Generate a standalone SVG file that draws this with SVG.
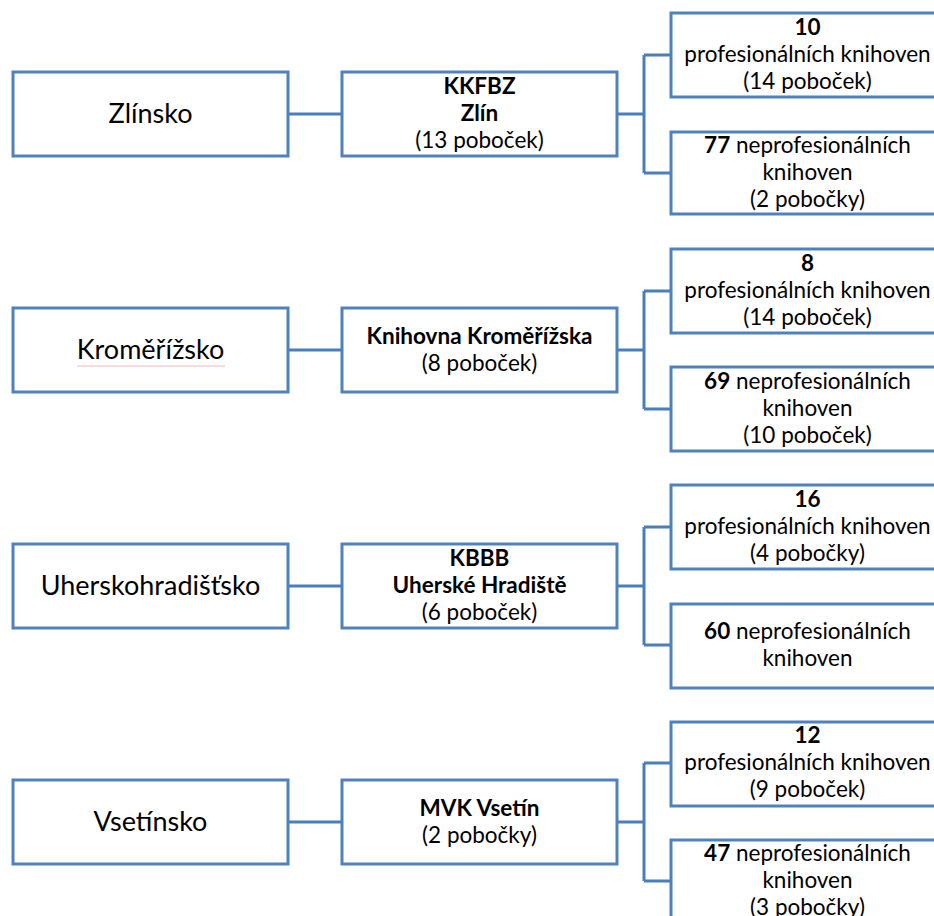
<svg xmlns="http://www.w3.org/2000/svg" width="934" height="916" viewBox="0 0 934 916">
<style>
  .box { fill: #ffffff; stroke: #4F81BD; stroke-width: 3; }
  .conn { fill: none; stroke: #4A7EBB; stroke-width: 3; }
  text { font-family: Lato, "Liberation Sans", sans-serif; fill: #000000; text-anchor: middle; }
  .big { font-size: 27px; }
  .t { font-size: 22.5px; }
  .b { font-weight: bold; }
</style>
<rect width="934" height="916" fill="#ffffff"/>

<g id="connectors">
  <!-- row 1 -->
  <path class="conn" d="M288 114 H342 M617 114 H644 M644 55 V173 M644 55 H671 M644 173 H671"/>
  <!-- row 2 -->
  <path class="conn" d="M288 350 H342 M617 350 H644 M644 291 V409 M644 291 H671 M644 409 H671"/>
  <!-- row 3 -->
  <path class="conn" d="M288 586 H342 M617 586 H644 M644 527 V645 M644 527 H671 M644 645 H671"/>
  <!-- row 4 -->
  <path class="conn" d="M288 822 H342 M617 822 H644 M644 763 V881 M644 763 H671 M644 881 H671"/>
</g>

<!-- Row 1 -->
<g id="zlinsko">
  <rect class="box" x="13" y="72" width="275" height="84"/>
  <text class="big" x="150.5" y="123">Zlínsko</text>
</g>
<g id="kkfbz">
  <rect class="box" x="342" y="72" width="275" height="84"/>
  <text class="t b" x="479.5" y="94">KKFBZ</text>
  <text class="t b" x="479.5" y="121">Zlín</text>
  <text class="t" x="479.5" y="148">(13 poboček)</text>
</g>
<g id="zlin-prof">
  <rect class="box" x="671" y="13" width="275" height="84"/>
  <text class="t b" x="807.5" y="35">10</text>
  <text class="t" x="807.5" y="62">profesionálních knihoven</text>
  <text class="t" x="807.5" y="89">(14 poboček)</text>
</g>
<g id="zlin-neprof">
  <rect class="box" x="671" y="132" width="275" height="82"/>
  <text class="t" x="807.5" y="153"><tspan class="b">77</tspan> neprofesionálních</text>
  <text class="t" x="807.5" y="180">knihoven</text>
  <text class="t" x="807.5" y="207">(2 pobočky)</text>
</g>

<!-- Row 2 -->
<g id="kromerizsko">
  <rect class="box" x="13" y="308" width="275" height="84"/>
  <text class="big" x="150.5" y="359">Kroměřížsko</text>
  <path d="M77 366 H225" stroke="#e8a0a0" stroke-width="1" opacity="0.7"/>
</g>
<g id="knihovna-kromerizska">
  <rect class="box" x="342" y="308" width="275" height="84"/>
  <text class="t b" x="479.5" y="344">Knihovna Kroměřížska</text>
  <text class="t" x="479.5" y="371">(8 poboček)</text>
</g>
<g id="krom-prof">
  <rect class="box" x="671" y="249" width="275" height="84"/>
  <text class="t b" x="807.5" y="271">8</text>
  <text class="t" x="807.5" y="298">profesionálních knihoven</text>
  <text class="t" x="807.5" y="325">(14 poboček)</text>
</g>
<g id="krom-neprof">
  <rect class="box" x="671" y="367" width="275" height="84"/>
  <text class="t" x="807.5" y="389"><tspan class="b">69</tspan> neprofesionálních</text>
  <text class="t" x="807.5" y="416">knihoven</text>
  <text class="t" x="807.5" y="443">(10 poboček)</text>
</g>

<!-- Row 3 -->
<g id="uherskohradistsko">
  <rect class="box" x="13" y="544" width="275" height="84"/>
  <text class="big" x="150.5" y="595">Uherskohradišťsko</text>
</g>
<g id="kbbb">
  <rect class="box" x="342" y="544" width="275" height="84"/>
  <text class="t b" x="479.5" y="566">KBBB</text>
  <text class="t b" x="479.5" y="593">Uherské Hradiště</text>
  <text class="t" x="479.5" y="620">(6 poboček)</text>
</g>
<g id="uh-prof">
  <rect class="box" x="671" y="485" width="275" height="84"/>
  <text class="t b" x="807.5" y="507">16</text>
  <text class="t" x="807.5" y="534">profesionálních knihoven</text>
  <text class="t" x="807.5" y="561">(4 pobočky)</text>
</g>
<g id="uh-neprof">
  <rect class="box" x="671" y="604" width="275" height="84"/>
  <text class="t" x="807.5" y="639"><tspan class="b">60</tspan> neprofesionálních</text>
  <text class="t" x="807.5" y="666">knihoven</text>
</g>

<!-- Row 4 -->
<g id="vsetinsko">
  <rect class="box" x="13" y="780" width="275" height="84"/>
  <text class="big" x="150.5" y="831">Vsetínsko</text>
</g>
<g id="mvk-vsetin">
  <rect class="box" x="342" y="780" width="275" height="84"/>
  <text class="t b" x="479.5" y="816">MVK Vsetín</text>
  <text class="t" x="479.5" y="843">(2 pobočky)</text>
</g>
<g id="vs-prof">
  <rect class="box" x="671" y="722" width="275" height="84"/>
  <text class="t b" x="807.5" y="743">12</text>
  <text class="t" x="807.5" y="770">profesionálních knihoven</text>
  <text class="t" x="807.5" y="797">(9 poboček)</text>
</g>
<g id="vs-neprof">
  <rect class="box" x="671" y="840" width="275" height="84"/>
  <text class="t" x="807.5" y="861"><tspan class="b">47</tspan> neprofesionálních</text>
  <text class="t" x="807.5" y="888">knihoven</text>
  <text class="t" x="807.5" y="915">(3 pobočky)</text>
</g>
</svg>
